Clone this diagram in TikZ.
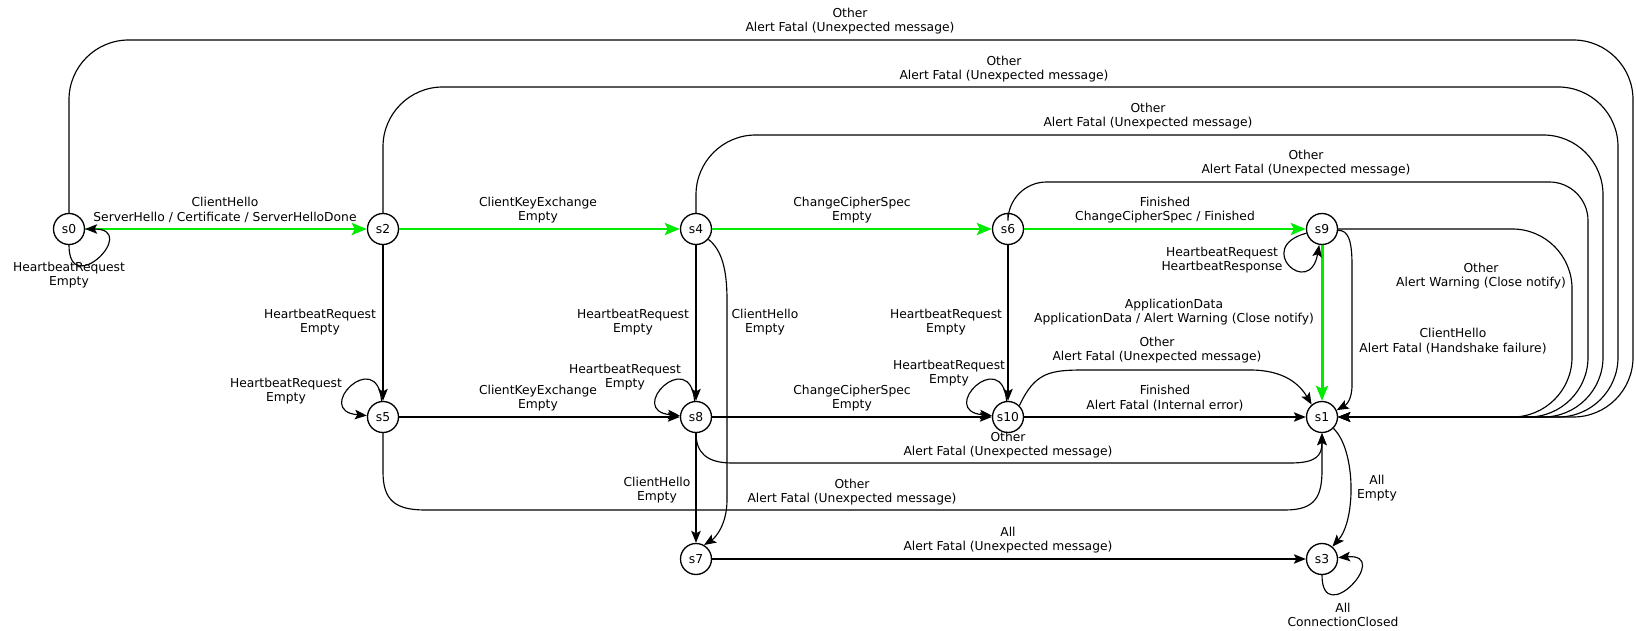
\documentclass[tikz,border=0pt]{standalone}
\usepackage{fontspec}
\setmainfont{DejaVu Sans}
\usetikzlibrary{arrows.meta}
\definecolor{hsgreen}{RGB}{0,235,0}
\begin{document}
\begin{tikzpicture}[x=0.02cm, y=0.02cm,
  every node/.style={font=\fontsize{7}{8.3}\selectfont},
  st/.style={circle, draw, line width=0.75pt, minimum size=0.62cm, inner sep=0pt},
  tr/.style={line width=0.65pt, -{Stealth[length=0.24cm, width=0.19cm, inset=0.05cm]}},
  ok/.style={draw=hsgreen, line width=1.7pt, -{Stealth[length=0.3cm, width=0.24cm, inset=0.06cm]}},
  lb/.style={align=center, inner sep=0pt}]
\useasboundingbox (0,0) rectangle (1636,-631);
\node[st] (s0) at (69,-229){s0};
\node[st] (s2) at (383,-229){s2};
\node[st] (s4) at (696,-229){s4};
\node[st] (s6) at (1008,-229){s6};
\node[st] (s9) at (1322,-229){s9};
\node[st] (s5) at (383,-417){s5};
\node[st] (s8) at (696,-417){s8};
\node[st] (s10) at (1008,-417){s10};
\node[st] (s1) at (1322,-417){s1};
\node[st] (s7) at (696,-559){s7};
\node[st] (s3) at (1322,-559){s3};
% handshake path
\draw[ok] (s0) -- (s2);
\node[lb] (l02) at (225,-210){ClientHello\\ServerHello / Certificate / ServerHelloDone};
\draw[ok] (s2) -- (s4);
\node[lb] (l24) at (538,-210){ClientKeyExchange\\Empty};
\draw[ok] (s4) -- (s6);
\node[lb] (l46) at (852,-210){ChangeCipherSpec\\Empty};
\draw[ok] (s6) -- (s9);
\node[lb] (l69) at (1165,-210){Finished\\ChangeCipherSpec / Finished};
\draw[ok] (s9) -- (s1);
\node[lb] (l91) at (1174,-312){ApplicationData\\ApplicationData / Alert Warning (Close notify)};
% self loops
\draw[tr] (s0.-90) .. controls +(-90:55) and +(0:55) .. (s0.0);
\node[lb] (l00) at (69,-275){HeartbeatRequest\\Empty};
\draw[tr] (s5.95) .. controls +(95:55) and +(175:55) .. (s5.175);
\node[lb] (l55) at (286,-391){HeartbeatRequest\\Empty};
\draw[tr] (s8.95) .. controls +(95:55) and +(175:55) .. (s8.175);
\node[lb] (l88) at (625,-377){HeartbeatRequest\\Empty};
\draw[tr] (s10.95) .. controls +(95:55) and +(175:55) .. (s10.175);
\node[lb] (l1010) at (949,-373){HeartbeatRequest\\Empty};
\draw[tr] (s9.195) .. controls +(195:55) and +(-100:55) .. (s9.-100);
\node[lb] (l99) at (1222,-260){HeartbeatRequest\\HeartbeatResponse};
\draw[tr] (s3.-90) .. controls +(-90:55) and +(5:55) .. (s3.5);
\node[lb] (l33) at (1343,-615){All\\ConnectionClosed};
% unexpected messages, over the top
\draw[tr, rounded corners=34] (s0.north) |- (1633,-40) |- (s1.east);
\node[lb] (l01) at (850,-21){Other\\Alert Fatal (Unexpected message)};
\draw[tr, rounded corners=34] (s2.north) |- (1618,-87) |- (s1.east);
\node[lb] (l21) at (1004,-69){Other\\Alert Fatal (Unexpected message)};
\draw[tr, rounded corners=34] (s4.north) |- (1603,-135) |- (s1.east);
\node[lb] (l41) at (1148,-116){Other\\Alert Fatal (Unexpected message)};
\draw[tr] (s6.north) [rounded corners=22] |- (1588,-182) [rounded corners=34] |- (s1.east);
\node[lb] (l61) at (1306,-163){Other\\Alert Fatal (Unexpected message)};
\draw[tr, rounded corners=34] (s9.east) -| (1572,-417) -- (s1.east);
\node[lb] (l91b) at (1481,-276){Other\\Alert Warning (Close notify)};
\draw[tr] (s9.-5) .. controls (1348,-230) and (1352,-240) .. (1352,-265) -- (1352,-385) .. controls (1352,-400) and (1346,-405) .. (s1.25);
\node[lb] (l91c) at (1453,-341){ClientHello\\Alert Fatal (Handshake failure)};
% heartbeat columns
\draw[tr] (s2) -- (s5);
\node[lb] (l25) at (320,-322){HeartbeatRequest\\Empty};
\draw[tr] (s4) -- (s8);
\node[lb] (l48) at (633,-322){HeartbeatRequest\\Empty};
\draw[tr] (s6) -- (s10);
\node[lb] (l610) at (946,-322){HeartbeatRequest\\Empty};
\draw[tr] (s4.-40) .. controls (722,-250) and (727,-270) .. (727,-300) -- (727,-500) .. controls (727,-525) and (715,-538) .. (s7.60);
\node[lb] (l47) at (765,-322){ClientHello\\Empty};
% second row
\draw[tr] (s5) -- (s8);
\node[lb] (l58) at (538,-398){ClientKeyExchange\\Empty};
\draw[tr] (s8) -- (s10);
\node[lb] (l810) at (852,-398){ChangeCipherSpec\\Empty};
\draw[tr] (s10) -- (s1);
\node[lb] (l101) at (1165,-398){Finished\\Alert Fatal (Internal error)};
\draw[tr] (s10.45) .. controls (1035,-372) and (1050,-370) .. (1085,-370) -- (1250,-370) .. controls (1285,-370) and (1300,-385) .. (s1.130);
\node[lb] (l101b) at (1157,-350){Other\\Alert Fatal (Unexpected message)};
\draw[tr] (s8.south) .. controls (696,-452) and (706,-463) .. (732,-463) -- (1290,-463) .. controls (1316,-463) and (1322,-456) .. (s1.south);
\node[lb] (l81) at (1008,-445){Other\\Alert Fatal (Unexpected message)};
\draw[tr] (s5.south) -- (383,-472) .. controls (383,-500) and (395,-510) .. (425,-510) -- (1285,-510) .. controls (1315,-510) and (1322,-497) .. (1322,-470) -- (s1.south);
\node[lb] (l51) at (852,-492){Other\\Alert Fatal (Unexpected message)};
\draw[tr] (s8) -- (s7);
\node[lb] (l87) at (657,-490){ClientHello\\Empty};
% closing
\draw[tr] (s1.-45) .. controls (1356,-450) and (1356,-520) .. (s3.50);
\node[lb] (l13) at (1377,-488){All\\Empty};
\draw[tr] (s7) -- (s3);
\node[lb] (l73) at (1008,-540){All\\Alert Fatal (Unexpected message)};
\end{tikzpicture}
\end{document}
